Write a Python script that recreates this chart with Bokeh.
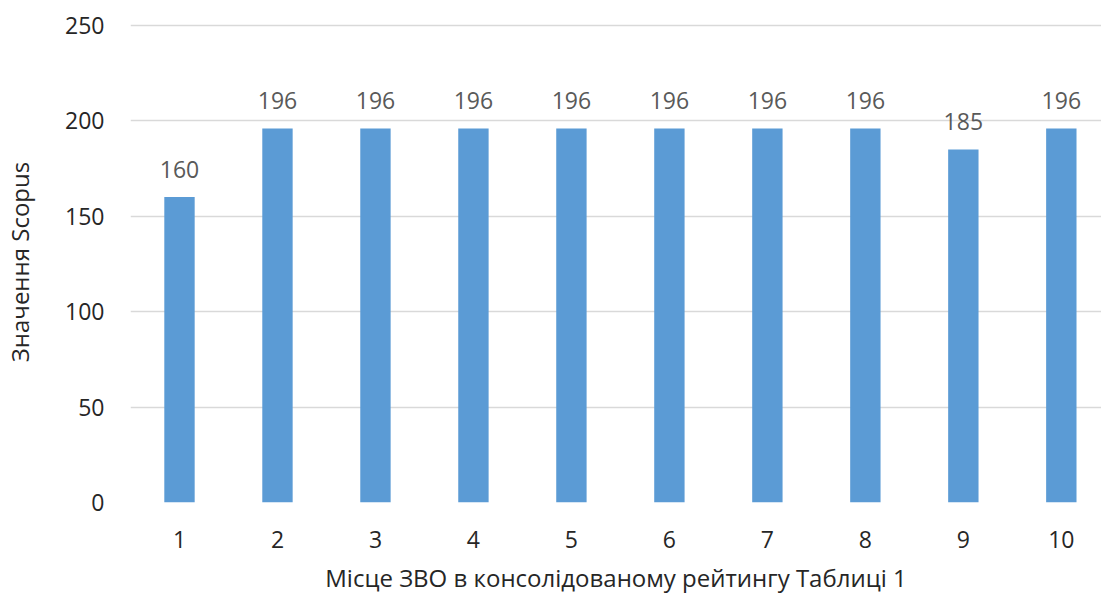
from bokeh.plotting import figure
from bokeh.models import ColumnDataSource, Range1d, FixedTicker
from bokeh.core.properties import value
from bokeh.embed import file_html
from bokeh.resources import INLINE

places = [1, 2, 3, 4, 5, 6, 7, 8, 9, 10]
scopus = [160, 196, 196, 196, 196, 196, 196, 196, 185, 196]
y_ticks = [0, 50, 100, 150, 200, 250]
x_title = "Місце ЗВО в консолідованому рейтингу Таблиці 1"
y_title = "Значення Scopus"

FONT = "Open Sans"

src = ColumnDataSource(dict(x=places, y=scopus, lbl=[str(v) for v in scopus]))

p = figure(frame_width=971, frame_height=481, output_backend="svg", toolbar_location=None,
           x_range=Range1d(0.5, 10.41), y_range=Range1d(0, 252),
           min_border_left=130, min_border_right=0, min_border_top=21, min_border_bottom=0)
p.outline_line_color = None
p.background_fill_color = "white"
p.border_fill_color = "white"

p.vbar(x="x", top="y", width=0.31, source=src, fill_color="#5B9BD5", line_color=None)
p.text(x="x", y="y", text="lbl", source=src, text_align="center", text_baseline="bottom",
       y_offset=-19, text_font=value(FONT), text_font_size="23px", text_color="#595959")

p.xaxis.ticker = FixedTicker(ticks=places)
p.yaxis.ticker = FixedTicker(ticks=y_ticks)
for ax in (p.xaxis[0], p.yaxis[0]):
    ax.axis_line_color = None
    ax.major_tick_line_color = None
    ax.minor_tick_line_color = None
    ax.major_label_text_font = FONT
    ax.major_label_text_font_size = "23px"
    ax.major_label_text_color = "#262626"
    ax.axis_label_text_font = FONT
    ax.axis_label_text_font_size = "24px"
    ax.axis_label_text_font_style = "normal"
    ax.axis_label_text_color = "#262626"
p.xaxis.axis_label = x_title
p.yaxis.axis_label = y_title
p.xaxis.major_label_standoff = 22
p.yaxis.major_label_standoff = 20
p.xaxis.axis_label_standoff = 10
p.yaxis.axis_label_standoff = 26

p.xgrid.grid_line_color = None
p.ygrid.grid_line_color = "#D9D9D9"
p.ygrid.grid_line_width = 1.5

open("out.html", "w").write(file_html(p, INLINE))
